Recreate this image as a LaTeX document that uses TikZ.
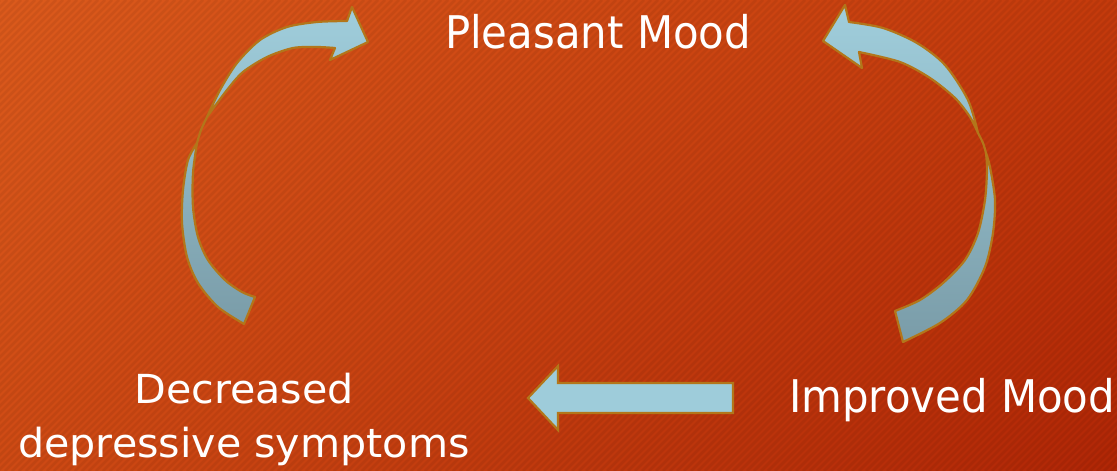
\documentclass[tikz,border=0pt]{standalone}
\usepackage{fontspec}
\setmainfont{DejaVu Sans}
\newfontfamily\fontA[FakeStretch=0.93]{DejaVu Sans}
\newfontfamily\fontB[FakeStretch=1.03]{DejaVu Sans}
\usetikzlibrary{shadings}
\definecolor{outl}{HTML}{B3761A}
\definecolor{blueL}{HTML}{A0CEDC}
\definecolor{blueD}{HTML}{7A9CA8}
\definecolor{flatB}{HTML}{9ECCDA}
\definecolor{bgUL}{HTML}{DB5A1C}
\definecolor{bgUR}{HTML}{C43A0C}
\definecolor{bgLL}{HTML}{CE4A14}
\definecolor{bgLR}{HTML}{B02606}
\begin{document}
\begin{tikzpicture}[x=1pt,y=-1pt,
  lbl/.style={text=white,font=\fontA\fontsize{45}{54}\selectfont,inner sep=0pt},
  lbl2/.style={text=white,font=\fontB\fontsize{40}{54}\selectfont,inner sep=0pt,align=center},
  band/.style={draw=outl,line width=2.2pt,line join=round,top color=blueL,bottom color=blueD},
  seam/.style={draw=outl,line width=2.2pt,line cap=round},
  flatarrow/.style={draw=outl,line width=2.2pt,line join=miter,fill=flatB},
  stripe/.style={black,opacity=0.06,line width=2.5pt}]
\useasboundingbox (0,0) rectangle (1117,471);
\shade[upper left=bgUL,upper right=bgUR,lower left=bgLL,lower right=bgLR] (0,0) rectangle (1117,471);
\begin{scope}
  \clip (0,0) rectangle (1117,471);
  \foreach \c in {0,7,...,1600} \draw[stripe] (\c-471,471) -- (\c,0);
\end{scope}

% labels
\node[lbl,anchor=base] (pm) at (598,48) {Pleasant Mood};
\node[lbl,anchor=base] (im) at (952,412) {Improved Mood};
\node[lbl2,anchor=base] (dd) at (244,457) {Decreased\\depressive symptoms};

% left curved arrow
\shadedraw[band]
  plot[smooth] coordinates {(244,324) (218,307) (198,283) (187,257) (182,223) (183,190) (188,160) (197,143)}
  -- plot[smooth] coordinates {(197,143) (193,173) (193,207) (198,237) (208,260) (225,280) (242,292) (255,297)} -- cycle
  plot[smooth] coordinates {(207,117) (220,90) (237,63) (260,40) (287,27) (317,22) (347,21)}
  -- (352,7) -- (368,42) -- (330,60) -- (335,48)
  -- plot[smooth] coordinates {(335,48) (317,47) (293,48) (267,57) (243,72) (227,90) (207,117)} -- cycle;
\draw[seam] plot[smooth] coordinates {(197,143) (201,130) (207,117)};

% right curved arrow
\shadedraw[band]
  plot[smooth] coordinates {(849,22) (883,28) (917,43) (945,65) (968,100) (978,133)}
  -- plot[smooth] coordinates {(978,133) (970,117) (955,98) (930,78) (900,62) (859,52)}
  -- (862,68) -- (823,41) -- (845,5) -- cycle
  plot[smooth] coordinates {(986,153) (990,167) (995,200) (993,233) (985,267) (967,300) (940,323) (903,342)}
  -- plot[smooth] coordinates {(895,311) (920,300) (943,283) (965,260) (978,233) (985,200) (987,170) (986,153)} -- cycle;
\draw[seam] plot[smooth] coordinates {(978,133) (983,143) (986,153)};

% straight arrow
\filldraw[flatarrow] (733,383) -- (558,383) -- (558,366) -- (528,398) -- (558,430) -- (558,413) -- (733,413) -- cycle;
\end{tikzpicture}
\end{document}
